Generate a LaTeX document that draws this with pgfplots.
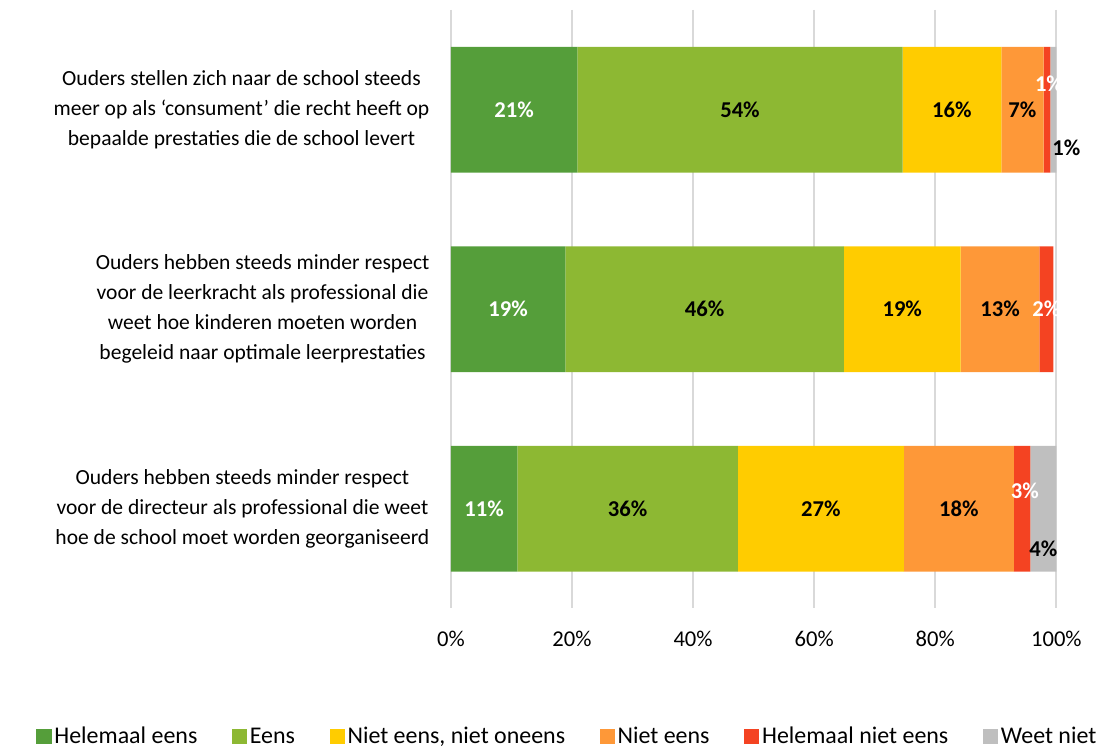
\documentclass[border=0pt]{standalone}
\usepackage{pgfplots}
\pgfplotsset{compat=1.18}
\usepackage{pgfplotstable}
\usepackage{fontspec}
\setmainfont{Carlito}
\definecolor{c1}{HTML}{559E3A}
\definecolor{c2}{HTML}{8DB833}
\definecolor{c3}{HTML}{FFCC00}
\definecolor{c4}{HTML}{FE9838}
\definecolor{c5}{HTML}{F44322}
\definecolor{c6}{HTML}{BFBFBF}
\definecolor{gridc}{HTML}{D9D9D9}
% y: 0 = top category; lab = 1 shows the value label
\pgfplotstableread{
y v dx dy lab
0 20.9 0 0 1
1 18.9 0 0 1
2 11.0 0 0 1
}\tA
\pgfplotstableread{
y v dx dy lab
0 53.7 0 0 1
1 46.0 0 0 1
2 36.4 0 0 1
}\tB
\pgfplotstableread{
y v dx dy lab
0 16.3 0 0 1
1 19.3 0 0 1
2 27.4 0 0 1
}\tC
\pgfplotstableread{
y v dx dy lab
0 7.0 0 0 1
1 13.0 0 0 1
2 18.2 0 0 1
}\tD
\pgfplotstableread{
y v dx dy lab
0 1.1 1.5 19.5 1
1 2.3 0 0 1
2 2.7 2 13.5 1
}\tE
\pgfplotstableread{
y v dx dy lab
0 1.0 9.75 -28.5 1
1 0.0 0 0 0
2 4.3 0 -30 1
}\tF
\begin{document}
\fontsize{17}{20}\selectfont
\begin{tikzpicture}
\begin{axis}[name=ax, scale only axis, width=455.25pt, height=450pt,
  xbar stacked, bar width=94.5pt,
  xmin=0, xmax=100, ymin=-0.5, ymax=2.5, y dir=reverse,
  axis line style={draw=none}, major tick length=0pt,
  xmajorgrids, grid style={draw=gridc, line width=1.5pt},
  xtick={0,20,40,60,80,100},
  xticklabel={\pgfmathprintnumber{\tick}\%},
  /pgf/number format/assume math mode=true,
  xticklabel style={inner sep=0pt, yshift=-17pt, font=\fontsize{17}{20}\selectfont},
  ytick={0,1,2},
  yticklabels={{Ouders stellen zich naar de school steeds\\meer op als ‘consument’ die recht heeft op\\bepaalde prestaties die de school levert},
    {Ouders hebben steeds minder respect\\voor de leerkracht als professional die\\weet hoe kinderen moeten worden\\begeleid naar optimale leerprestaties},
    {Ouders hebben steeds minder respect\\voor de directeur als professional die weet\\hoe de school moet worden georganiseerd}},
  yticklabel style={align=center, inner sep=0pt, xshift=-16pt, font=\fontsize{16.2}{22.5}\selectfont},
  legend style={at={(0.193,-0.215)}, anchor=center, draw=none, fill=none,
    legend columns=6, font=\fontsize{18}{20}\selectfont,
    nodes={text height=1.6ex, text depth=0.45ex},
    /tikz/every even column/.append style={column sep=24pt}},
  legend image code/.code={\fill[#1] (0pt,-5.5pt) rectangle (11.5pt,6pt);},
  nodes near coords={\ifdim\lab pt>0.5pt\pgfmathprintnumber[fixed,precision=0]{\pgfplotspointmeta}\%\fi},
  every node near coord/.append style={font=\fontsize{17}{20}\selectfont\bfseries, anchor=center, xshift=\dx pt, yshift=\dy pt},
  visualization depends on={\thisrow{dx} \as \dx},
  visualization depends on={\thisrow{dy} \as \dy},
  visualization depends on={\thisrow{lab} \as \lab},
  point meta=explicit,
]
\addplot[fill=c1, draw=none, nodes near coords style={text=white}] table[x=v, y=y, meta=v] {\tA};
\addplot[fill=c2, draw=none, nodes near coords style={text=black}] table[x=v, y=y, meta=v] {\tB};
\addplot[fill=c3, draw=none, nodes near coords style={text=black}] table[x=v, y=y, meta=v] {\tC};
\addplot[fill=c4, draw=none, nodes near coords style={text=black}] table[x=v, y=y, meta=v] {\tD};
\addplot[fill=c5, draw=none, nodes near coords style={text=white}] table[x=v, y=y, meta=v] {\tE};
\addplot[fill=c6, draw=none, nodes near coords style={text=black}] table[x=v, y=y, meta=v] {\tF};
\legend{Helemaal eens, Eens, {Niet eens, niet oneens}, Niet eens, Helemaal niet eens, Weet niet}
\end{axis}
\path[use as bounding box] ([xshift=-339pt, yshift=7.5pt]ax.north west) rectangle ([xshift=33pt, yshift=-102pt]ax.south east);
\end{tikzpicture}
\end{document}
